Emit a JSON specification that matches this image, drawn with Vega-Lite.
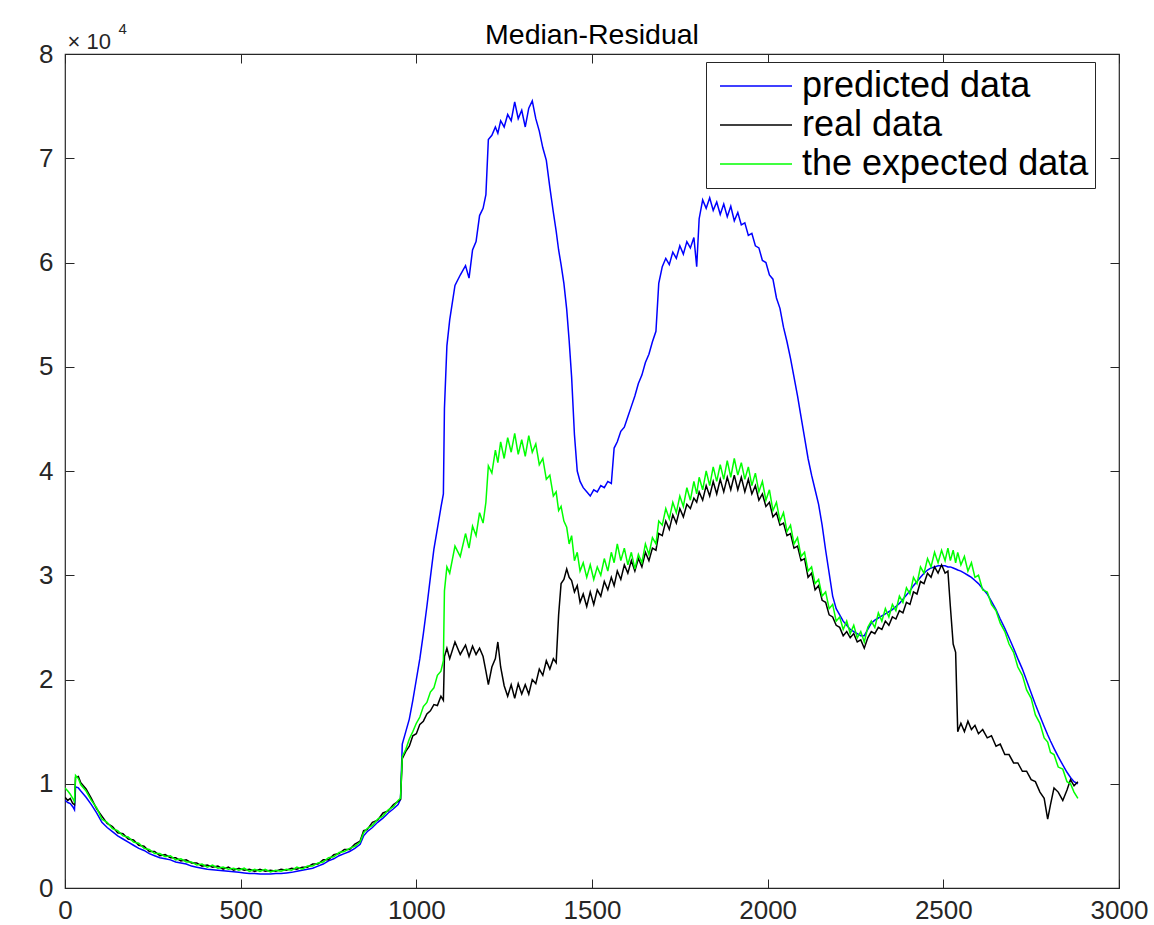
{
  "$schema": "https://vega.github.io/schema/vega-lite/v6.json",
  "width": 1054,
  "height": 834,
  "autosize": "none",
  "padding": {"left": 65, "top": 54, "right": 35, "bottom": 37},
  "background": "white",
  "title": {"text": "Median-Residual", "fontSize": 28.5, "font": "Liberation Sans", "fontWeight": "normal", "color": "#000000", "offset": 6, "dy": 63, "baseline": "bottom", "anchor": "middle"},
  "config": {"view": {"stroke": "#262626", "strokeWidth": 1.2}},
  "data": {"values": [
    {"x":0,"e":0.96,"r":0.87,"p":0.84},{"x":8,"e":0.93,"r":0.84,"p":0.82},{"x":15,"e":0.90,"r":0.86,"p":0.81},{"x":22,"e":0.86,"r":0.81,"p":0.78},{"x":27,"e":0.83,"r":0.80,"p":0.75},
    {"x":30,"e":1.08,"r":1.06,"p":0.97},{"x":38,"e":1.05,"r":1.07,"p":0.96},{"x":45,"e":0.99,"r":1.01,"p":0.93},{"x":60,"e":0.93,"r":0.95,"p":0.87},{"x":75,"e":0.84,"r":0.86,"p":0.80},
    {"x":90,"e":0.77,"r":0.76,"p":0.72},{"x":105,"e":0.66,"r":0.69,"p":0.63},{"x":120,"e":0.63,"r":0.62,"p":0.58},{"x":135,"e":0.57,"r":0.59,"p":0.54},{"x":150,"e":0.55,"r":0.53,"p":0.50},
    {"x":165,"e":0.50,"r":0.52,"p":0.47},{"x":180,"e":0.49,"r":0.47,"p":0.44},{"x":195,"e":0.44,"r":0.46,"p":0.41},{"x":210,"e":0.43,"r":0.41,"p":0.38},{"x":225,"e":0.38,"r":0.40,"p":0.36},
    {"x":240,"e":0.37,"r":0.35,"p":0.33},{"x":255,"e":0.33,"r":0.35,"p":0.31},{"x":270,"e":0.33,"r":0.31,"p":0.29},{"x":285,"e":0.30,"r":0.32,"p":0.28},{"x":300,"e":0.31,"r":0.29,"p":0.27},
    {"x":315,"e":0.27,"r":0.29,"p":0.25},{"x":330,"e":0.28,"r":0.26,"p":0.24},{"x":345,"e":0.25,"r":0.27,"p":0.23},{"x":360,"e":0.25,"r":0.24,"p":0.21},{"x":375,"e":0.22,"r":0.24,"p":0.20},
    {"x":390,"e":0.23,"r":0.21,"p":0.19},{"x":405,"e":0.20,"r":0.22,"p":0.18},{"x":420,"e":0.22,"r":0.20,"p":0.175},{"x":435,"e":0.19,"r":0.21,"p":0.17},{"x":450,"e":0.20,"r":0.18,"p":0.165},
    {"x":465,"e":0.18,"r":0.20,"p":0.16},{"x":480,"e":0.19,"r":0.17,"p":0.155},{"x":495,"e":0.17,"r":0.19,"p":0.15},{"x":510,"e":0.19,"r":0.17,"p":0.145},{"x":525,"e":0.16,"r":0.18,"p":0.14},
    {"x":540,"e":0.18,"r":0.16,"p":0.14},{"x":555,"e":0.16,"r":0.18,"p":0.135},{"x":570,"e":0.18,"r":0.16,"p":0.135},{"x":585,"e":0.155,"r":0.17,"p":0.135},{"x":600,"e":0.17,"r":0.16,"p":0.14},
    {"x":615,"e":0.16,"r":0.18,"p":0.14},{"x":630,"e":0.18,"r":0.17,"p":0.145},{"x":645,"e":0.17,"r":0.19,"p":0.15},{"x":660,"e":0.20,"r":0.18,"p":0.16},{"x":675,"e":0.18,"r":0.20,"p":0.17},
    {"x":690,"e":0.21,"r":0.20,"p":0.18},{"x":705,"e":0.21,"r":0.23,"p":0.19},{"x":720,"e":0.24,"r":0.23,"p":0.21},{"x":735,"e":0.25,"r":0.27,"p":0.23},{"x":750,"e":0.29,"r":0.27,"p":0.26},
    {"x":765,"e":0.30,"r":0.32,"p":0.28},{"x":780,"e":0.34,"r":0.33,"p":0.31},{"x":795,"e":0.35,"r":0.37,"p":0.33},{"x":810,"e":0.38,"r":0.37,"p":0.35},{"x":825,"e":0.40,"r":0.42,"p":0.38},
    {"x":840,"e":0.44,"r":0.45,"p":0.42},{"x":850,"e":0.53,"r":0.55,"p":0.50},{"x":860,"e":0.57,"r":0.56,"p":0.54},{"x":875,"e":0.60,"r":0.63,"p":0.58},{"x":890,"e":0.66,"r":0.65,"p":0.63},
    {"x":905,"e":0.69,"r":0.72,"p":0.67},{"x":920,"e":0.75,"r":0.74,"p":0.72},{"x":935,"e":0.78,"r":0.80,"p":0.76},{"x":948,"e":0.84,"r":0.83,"p":0.80},{"x":955,"e":0.86,"r":0.85,"p":0.85},
    {"x":960,"e":1.26,"r":1.24,"p":1.38},{"x":970,"e":1.33,"r":1.31,"p":1.50},{"x":980,"e":1.43,"r":1.36,"p":1.62},{"x":990,"e":1.50,"r":1.46,"p":1.80},{"x":1000,"e":1.58,"r":1.48,"p":2.00},
    {"x":1010,"e":1.64,"r":1.57,"p":2.20},{"x":1020,"e":1.74,"r":1.60,"p":2.44},{"x":1030,"e":1.78,"r":1.67,"p":2.70},{"x":1040,"e":1.88,"r":1.70,"p":2.98},{"x":1050,"e":1.92,"r":1.76,"p":3.25},
    {"x":1060,"e":2.04,"r":1.75,"p":3.45},{"x":1070,"e":2.08,"r":1.84,"p":3.65},{"x":1077,"e":2.18,"r":1.80,"p":3.78},{"x":1080,"e":2.85,"r":2.22,"p":4.60},{"x":1087,"e":3.08,"r":2.30,"p":5.20},
    {"x":1095,"e":3.02,"r":2.20,"p":5.45},{"x":1110,"e":3.28,"r":2.36,"p":5.78},{"x":1125,"e":3.18,"r":2.24,"p":5.88},{"x":1140,"e":3.40,"r":2.33,"p":5.97},{"x":1150,"e":3.26,"r":2.22,"p":5.85},
    {"x":1160,"e":3.47,"r":2.32,"p":6.12},{"x":1170,"e":3.38,"r":2.24,"p":6.20},{"x":1180,"e":3.60,"r":2.30,"p":6.45},{"x":1190,"e":3.50,"r":2.22,"p":6.52},{"x":1198,"e":3.70,"r":2.08,"p":6.65},
    {"x":1205,"e":4.05,"r":1.95,"p":7.18},{"x":1215,"e":3.98,"r":2.12,"p":7.22},{"x":1225,"e":4.20,"r":2.20,"p":7.30},{"x":1232,"e":4.08,"r":2.36,"p":7.24},{"x":1240,"e":4.28,"r":2.12,"p":7.36},
    {"x":1250,"e":4.12,"r":1.94,"p":7.30},{"x":1260,"e":4.32,"r":1.84,"p":7.42},{"x":1270,"e":4.18,"r":1.95,"p":7.36},{"x":1280,"e":4.36,"r":1.82,"p":7.54},{"x":1290,"e":4.16,"r":1.96,"p":7.38},
    {"x":1300,"e":4.30,"r":1.86,"p":7.46},{"x":1310,"e":4.14,"r":1.95,"p":7.30},{"x":1320,"e":4.34,"r":1.86,"p":7.48},{"x":1330,"e":4.18,"r":2.00,"p":7.55},{"x":1340,"e":4.26,"r":1.96,"p":7.38},
    {"x":1350,"e":4.06,"r":2.10,"p":7.26},{"x":1360,"e":4.12,"r":2.04,"p":7.10},{"x":1370,"e":3.92,"r":2.18,"p":6.98},{"x":1380,"e":3.96,"r":2.10,"p":6.72},{"x":1390,"e":3.76,"r":2.20,"p":6.48},
    {"x":1398,"e":3.80,"r":2.16,"p":6.30},{"x":1405,"e":3.62,"r":2.62,"p":6.12},{"x":1412,"e":3.66,"r":2.92,"p":5.98},{"x":1420,"e":3.52,"r":2.96,"p":5.80},{"x":1428,"e":3.46,"r":3.06,"p":5.55},
    {"x":1435,"e":3.30,"r":2.98,"p":5.25},{"x":1442,"e":3.38,"r":2.95,"p":4.90},{"x":1450,"e":3.14,"r":2.84,"p":4.35},{"x":1458,"e":3.22,"r":2.90,"p":4.00},{"x":1466,"e":3.04,"r":2.74,"p":3.90},
    {"x":1475,"e":3.12,"r":2.82,"p":3.84},{"x":1485,"e":2.98,"r":2.70,"p":3.80},{"x":1495,"e":3.10,"r":2.84,"p":3.76},{"x":1505,"e":2.96,"r":2.72,"p":3.82},{"x":1515,"e":3.08,"r":2.86,"p":3.80},
    {"x":1525,"e":3.00,"r":2.80,"p":3.86},{"x":1535,"e":3.16,"r":2.94,"p":3.84},{"x":1545,"e":3.04,"r":2.86,"p":3.90},{"x":1555,"e":3.22,"r":2.98,"p":3.88},{"x":1563,"e":3.12,"r":2.90,"p":4.22},
    {"x":1572,"e":3.30,"r":3.04,"p":4.28},{"x":1582,"e":3.14,"r":2.96,"p":4.38},{"x":1592,"e":3.26,"r":3.10,"p":4.42},{"x":1602,"e":3.10,"r":3.02,"p":4.52},{"x":1612,"e":3.22,"r":3.14,"p":4.62},
    {"x":1622,"e":3.06,"r":3.04,"p":4.72},{"x":1632,"e":3.20,"r":3.16,"p":4.84},{"x":1642,"e":3.12,"r":3.08,"p":4.92},{"x":1652,"e":3.30,"r":3.22,"p":5.04},{"x":1662,"e":3.20,"r":3.14,"p":5.12},
    {"x":1672,"e":3.36,"r":3.26,"p":5.24},{"x":1682,"e":3.30,"r":3.24,"p":5.34},{"x":1690,"e":3.52,"r":3.40,"p":5.80},{"x":1700,"e":3.48,"r":3.38,"p":5.96},{"x":1710,"e":3.64,"r":3.52,"p":6.04},
    {"x":1720,"e":3.54,"r":3.44,"p":5.98},{"x":1730,"e":3.70,"r":3.58,"p":6.10},{"x":1740,"e":3.60,"r":3.50,"p":6.04},{"x":1750,"e":3.76,"r":3.64,"p":6.16},{"x":1760,"e":3.66,"r":3.56,"p":6.08},
    {"x":1770,"e":3.84,"r":3.68,"p":6.20},{"x":1780,"e":3.72,"r":3.64,"p":6.14},{"x":1790,"e":3.90,"r":3.74,"p":6.24},{"x":1798,"e":3.78,"r":3.70,"p":5.96},{"x":1805,"e":3.94,"r":3.80,"p":6.42},
    {"x":1815,"e":3.82,"r":3.72,"p":6.60},{"x":1825,"e":4.00,"r":3.86,"p":6.52},{"x":1835,"e":3.86,"r":3.76,"p":6.62},{"x":1845,"e":4.04,"r":3.90,"p":6.50},{"x":1855,"e":3.90,"r":3.78,"p":6.58},
    {"x":1865,"e":4.06,"r":3.92,"p":6.46},{"x":1875,"e":3.92,"r":3.80,"p":6.56},{"x":1885,"e":4.10,"r":3.94,"p":6.44},{"x":1895,"e":3.94,"r":3.82,"p":6.54},{"x":1905,"e":4.12,"r":3.96,"p":6.40},
    {"x":1915,"e":3.96,"r":3.82,"p":6.48},{"x":1925,"e":4.08,"r":3.94,"p":6.36},{"x":1935,"e":3.92,"r":3.80,"p":6.38},{"x":1945,"e":4.04,"r":3.92,"p":6.26},{"x":1955,"e":3.86,"r":3.78,"p":6.28},
    {"x":1965,"e":3.98,"r":3.86,"p":6.16},{"x":1975,"e":3.80,"r":3.72,"p":6.14},{"x":1985,"e":3.90,"r":3.78,"p":6.02},{"x":1995,"e":3.72,"r":3.66,"p":6.00},{"x":2005,"e":3.82,"r":3.70,"p":5.88},
    {"x":2015,"e":3.62,"r":3.56,"p":5.84},{"x":2025,"e":3.70,"r":3.60,"p":5.66},{"x":2035,"e":3.52,"r":3.48,"p":5.56},{"x":2045,"e":3.60,"r":3.50,"p":5.38},{"x":2055,"e":3.42,"r":3.38,"p":5.24},
    {"x":2065,"e":3.48,"r":3.40,"p":5.08},{"x":2075,"e":3.30,"r":3.26,"p":4.90},{"x":2085,"e":3.36,"r":3.28,"p":4.72},{"x":2095,"e":3.18,"r":3.14,"p":4.52},{"x":2105,"e":3.22,"r":3.16,"p":4.32},
    {"x":2115,"e":3.04,"r":2.98,"p":4.12},{"x":2125,"e":3.08,"r":3.02,"p":3.96},{"x":2135,"e":2.92,"r":2.86,"p":3.82},{"x":2145,"e":2.96,"r":2.90,"p":3.68},{"x":2155,"e":2.80,"r":2.76,"p":3.48},
    {"x":2165,"e":2.84,"r":2.74,"p":3.24},{"x":2175,"e":2.68,"r":2.62,"p":3.02},{"x":2185,"e":2.72,"r":2.60,"p":2.80},{"x":2195,"e":2.56,"r":2.52,"p":2.68},{"x":2205,"e":2.60,"r":2.50,"p":2.62},
    {"x":2215,"e":2.48,"r":2.42,"p":2.56},{"x":2225,"e":2.56,"r":2.46,"p":2.52},{"x":2235,"e":2.44,"r":2.40,"p":2.48},{"x":2245,"e":2.52,"r":2.44,"p":2.46},{"x":2255,"e":2.40,"r":2.36,"p":2.44},
    {"x":2265,"e":2.46,"r":2.38,"p":2.42},{"x":2275,"e":2.36,"r":2.30,"p":2.42},{"x":2285,"e":2.50,"r":2.40,"p":2.48},{"x":2295,"e":2.56,"r":2.46,"p":2.54},{"x":2305,"e":2.50,"r":2.44,"p":2.57},
    {"x":2315,"e":2.64,"r":2.50,"p":2.59},{"x":2325,"e":2.56,"r":2.48,"p":2.61},{"x":2335,"e":2.68,"r":2.56,"p":2.63},{"x":2345,"e":2.60,"r":2.52,"p":2.65},{"x":2355,"e":2.72,"r":2.60,"p":2.67},
    {"x":2365,"e":2.66,"r":2.58,"p":2.70},{"x":2375,"e":2.80,"r":2.66,"p":2.73},{"x":2385,"e":2.74,"r":2.64,"p":2.77},{"x":2395,"e":2.88,"r":2.74,"p":2.81},{"x":2405,"e":2.82,"r":2.72,"p":2.85},
    {"x":2415,"e":2.98,"r":2.84,"p":2.90},{"x":2425,"e":2.92,"r":2.82,"p":2.94},{"x":2435,"e":3.08,"r":2.94,"p":2.98},{"x":2445,"e":3.02,"r":2.92,"p":3.02},{"x":2455,"e":3.16,"r":3.02,"p":3.05},
    {"x":2465,"e":3.08,"r":2.98,"p":3.07},{"x":2475,"e":3.22,"r":3.08,"p":3.08},{"x":2485,"e":3.12,"r":3.02,"p":3.09},{"x":2495,"e":3.24,"r":3.10,"p":3.09},{"x":2505,"e":3.14,"r":3.02,"p":3.09},
    {"x":2513,"e":3.26,"r":3.04,"p":3.08},{"x":2520,"e":3.14,"r":2.70,"p":3.08},{"x":2528,"e":3.24,"r":2.34,"p":3.07},{"x":2535,"e":3.12,"r":2.26,"p":3.06},{"x":2541,"e":3.22,"r":1.50,"p":3.05},
    {"x":2550,"e":3.10,"r":1.58,"p":3.04},{"x":2560,"e":3.18,"r":1.50,"p":3.02},{"x":2570,"e":3.04,"r":1.60,"p":3.00},{"x":2580,"e":3.12,"r":1.52,"p":2.98},{"x":2590,"e":2.98,"r":1.56,"p":2.95},
    {"x":2600,"e":3.00,"r":1.48,"p":2.92},{"x":2612,"e":2.86,"r":1.52,"p":2.87},{"x":2625,"e":2.84,"r":1.44,"p":2.82},{"x":2637,"e":2.72,"r":1.46,"p":2.75},{"x":2650,"e":2.66,"r":1.36,"p":2.67},
    {"x":2662,"e":2.54,"r":1.38,"p":2.58},{"x":2675,"e":2.46,"r":1.28,"p":2.49},{"x":2687,"e":2.34,"r":1.28,"p":2.40},{"x":2700,"e":2.26,"r":1.20,"p":2.30},{"x":2712,"e":2.12,"r":1.20,"p":2.20},
    {"x":2725,"e":2.04,"r":1.12,"p":2.10},{"x":2737,"e":1.90,"r":1.12,"p":1.99},{"x":2750,"e":1.82,"r":1.04,"p":1.87},{"x":2762,"e":1.66,"r":1.02,"p":1.76},{"x":2775,"e":1.58,"r":0.92,"p":1.65},
    {"x":2787,"e":1.44,"r":0.86,"p":1.55},{"x":2797,"e":1.40,"r":0.66,"p":1.47},{"x":2805,"e":1.30,"r":0.80,"p":1.41},{"x":2815,"e":1.28,"r":0.96,"p":1.34},{"x":2827,"e":1.16,"r":0.92,"p":1.26},
    {"x":2840,"e":1.14,"r":0.84,"p":1.18},{"x":2852,"e":1.02,"r":0.94,"p":1.11},{"x":2862,"e":1.00,"r":1.04,"p":1.06},{"x":2872,"e":0.92,"r":0.98,"p":1.02},{"x":2883,"e":0.86,"r":1.02,"p":1.00}
  ]},
  "transform": [{"fold": ["p", "r", "e"], "as": ["s", "v"]}],
  "layer": [
    {
      "mark": {"type": "line", "strokeWidth": 1.5, "clip": true},
      "encoding": {
        "x": {"field": "x", "type": "quantitative", "scale": {"domain": [0, 3000], "nice": false, "zero": false},
          "axis": {"orient": "bottom", "values": [0, 500, 1000, 1500, 2000, 2500, 3000], "format": "d", "tickSize": -9, "tickColor": "#262626", "tickWidth": 1, "domain": false, "grid": false, "labelFontSize": 26, "labelFont": "Liberation Sans", "labelColor": "#262626", "labelPadding": 18, "title": null, "labelFlush": false}},
        "y": {"field": "v", "type": "quantitative", "scale": {"domain": [0, 8], "nice": false, "zero": false},
          "axis": {"orient": "left", "values": [0, 1, 2, 3, 4, 5, 6, 7, 8], "format": "d", "tickSize": -9, "tickColor": "#262626", "tickWidth": 1, "domain": false, "grid": false, "labelFontSize": 26, "labelFont": "Liberation Sans", "labelColor": "#262626", "labelPadding": 21, "labelFlush": false,
            "title": "× 10", "titleAngle": 0, "titleX": 2, "titleY": -6, "titleAlign": "left", "titleBaseline": "alphabetic", "titleFontSize": 22, "titleFontWeight": "normal", "titleFont": "Liberation Sans", "titleColor": "#262626"}},
        "color": {"field": "s", "type": "nominal",
          "scale": {"domain": ["p", "r", "e"], "range": ["#0000ff", "#000000", "#00ff00"]},
          "legend": {"orient": "none", "legendX": 641, "legendY": 8, "title": null, "fillColor": "white", "strokeColor": "#262626", "padding": 6, "symbolOffset": 26, "symbolType": "M-3,0H3", "symbolSize": 576, "symbolStrokeWidth": 1.5, "labelFontSize": 36, "labelFont": "Liberation Sans", "labelColor": "#000000", "labelOffset": 28, "rowPadding": 3, "labelLimit": 400,
            "labelExpr": "datum.label == 'p' ? 'predicted data' : datum.label == 'r' ? 'real data' : 'the expected data'"}}
      }
    },
    {
      "mark": {"type": "line", "opacity": 0},
      "encoding": {
        "x": {"field": "x", "type": "quantitative",
          "axis": {"orient": "top", "values": [0, 500, 1000, 1500, 2000, 2500, 3000], "tickSize": -9, "tickColor": "#262626", "domain": false, "grid": false, "labels": false, "title": null}},
        "y": {"field": "v", "type": "quantitative",
          "axis": {"orient": "right", "values": [0, 1, 2, 3, 4, 5, 6, 7, 8], "tickSize": -9, "tickColor": "#262626", "domain": false, "grid": false, "labels": false,
            "title": "4", "titleAngle": 0, "titleX": -1001, "titleY": -21, "titleAlign": "left", "titleBaseline": "alphabetic", "titleFontSize": 15, "titleFontWeight": "normal", "titleFont": "Liberation Sans", "titleColor": "#262626"}},
        "detail": {"field": "s"}
      }
    }
  ],
  "resolve": {"axis": {"x": "independent", "y": "independent"}}
}
